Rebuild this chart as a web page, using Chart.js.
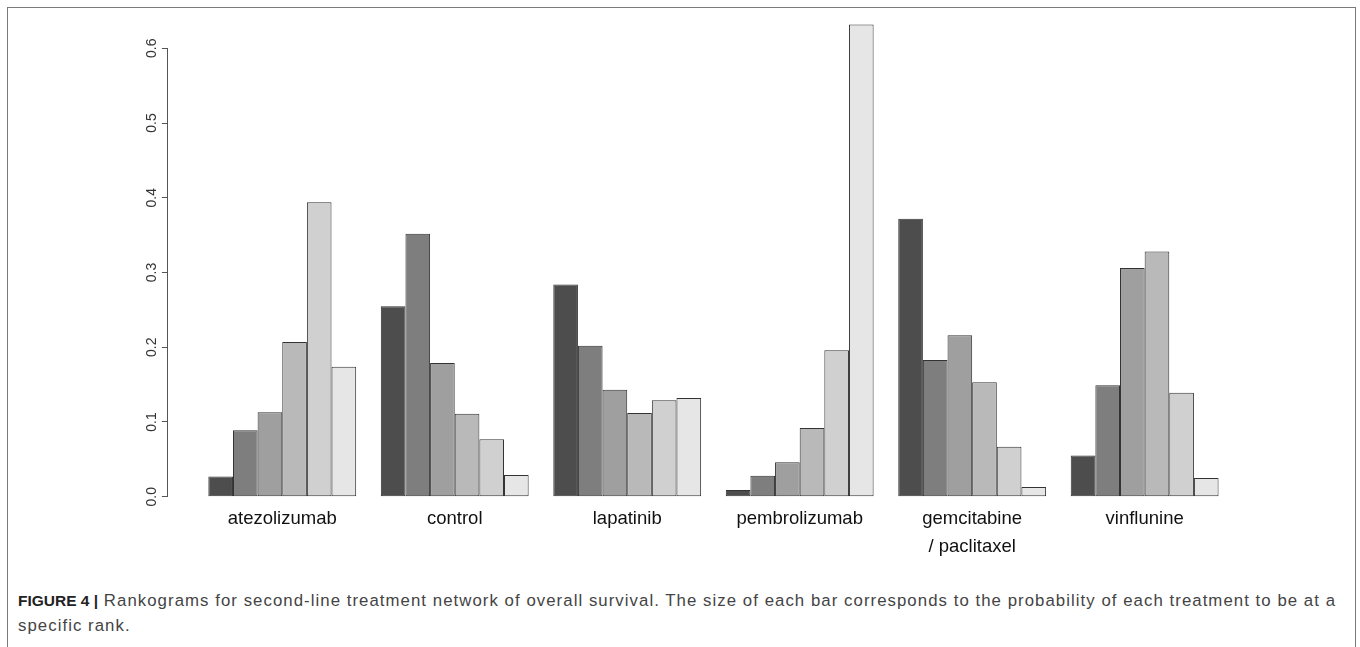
<!DOCTYPE html>
<html>
<head>
<meta charset="utf-8">
<script src="https://cdn.jsdelivr.net/npm/chart.js@4.4.1/dist/chart.umd.min.js"></script>
<style>
  html, body { margin: 0; padding: 0; width: 1360px; height: 647px; overflow: hidden; background: #fff; }
  .frame { position: absolute; left: 7px; top: 6.5px; width: 1347px; height: 700px;
           border: 1.5px solid #7a7a7a; border-bottom: none; }
  .plot { position: absolute; left: 0; top: 0; width: 1360px; height: 580px; }
  .caption { position: absolute; left: 18px; top: 588px; width: 1334px;
             font-family: "Liberation Sans", Arial, sans-serif; font-size: 16.8px;
             letter-spacing: 1.05px; line-height: 25px; color: #444; }
  .caption b { color: #222; font-size: 15.5px; letter-spacing: 0; }
</style>
</head>
<body>
<div class="frame"></div>
<div class="plot"><canvas id="myChart"></canvas></div>
<div class="caption"><b>FIGURE 4 |</b> Rankograms for second-line treatment network of overall survival. The size of each bar corresponds to the probability of each treatment to be at a specific rank.</div>
<script>
    'use strict';

    // treatments (x groups)
    var treatments = ['atezolizumab', 'control', 'lapatinib', 'pembrolizumab', ['gemcitabine', '/ paclitaxel'], 'vinflunine'];

    // probability of each treatment being at rank 1..6
    var rank1 = [0.027, 0.255, 0.284, 0.009, 0.372, 0.055];
    var rank2 = [0.089, 0.352, 0.202, 0.028, 0.183, 0.149];
    var rank3 = [0.113, 0.179, 0.143, 0.046, 0.216, 0.306];
    var rank4 = [0.207, 0.111, 0.112, 0.092, 0.153, 0.328];
    var rank5 = [0.394, 0.077, 0.129, 0.196, 0.067, 0.139];
    var rank6 = [0.174, 0.029, 0.132, 0.632, 0.013, 0.025];

    var yTickValues = [0, 0.1, 0.2, 0.3, 0.4, 0.5, 0.6];
    var yTickLabels = ['0.0', '0.1', '0.2', '0.3', '0.4', '0.5', '0.6'];

    var ranks = [rank1, rank2, rank3, rank4, rank5, rank6];
    var shades = ['#4D4D4D', '#7E7E7E', '#9F9F9F', '#B9B9B9', '#D0D0D0', '#E6E6E6'];

    var datasets = ranks.map(function (values, r) {
        return {
            label: 'rank ' + (r + 1),
            data: values.map(function (v, i) { return {x: i, y: v}; }),
            backgroundColor: shades[r],
            borderColor: '#333333',
            borderWidth: 1,
            borderSkipped: false,
            clip: false
        };
    });

    // y tick labels rotated like R's default axis
    var rotatedYLabels = {
        id: 'rotatedYLabels',
        afterDraw: function (chart) {
            var ctx = chart.ctx;
            var ys = chart.scales.y;
            ctx.save();
            ctx.font = '14px "Liberation Sans", Arial, sans-serif';
            ctx.fillStyle = '#333';
            ctx.textAlign = 'center';
            ctx.textBaseline = 'middle';
            ys.ticks.forEach(function (t, i) {
                var py = ys.getPixelForValue(t.value);
                ctx.save();
                ctx.translate(chart.chartArea.left - 16, py);
                ctx.rotate(-Math.PI / 2);
                ctx.fillText(yTickLabels[i], 0, 0);
                ctx.restore();
            });
            ctx.restore();
        }
    };

    window.chartDrawerInstance = new Chart(
        document.getElementById('myChart').getContext('2d'), {
            type: 'bar',
            data: {
                datasets: datasets
            },
            plugins: [rotatedYLabels],
            options: {
                responsive: true,
                maintainAspectRatio: false,
                animation: false,
                categoryPercentage: 6 / 7,
                barPercentage: 1,
                layout: {
                    padding: {
                        left: 161.9,
                        right: 101,
                        top: 48.3,
                        bottom: 0
                    }
                },
                plugins: {
                    legend: { display: false },
                    tooltip: { enabled: false }
                },
                scales: {
                    x: {
                        type: 'linear',
                        offset: false,
                        min: -0.663,
                        max: 5.663,
                        afterBuildTicks: function (scale) {
                            scale.ticks = treatments.map(function (t, i) { return {value: i}; });
                        },
                        afterFit: function (scale) {
                            scale.height = 83.3;
                        },
                        grid: { display: false },
                        border: { display: false },
                        ticks: {
                            autoSkip: false,
                            maxRotation: 0,
                            padding: 0,
                            color: '#111',
                            font: {
                                family: '"Liberation Sans", Arial, sans-serif',
                                size: 18.5,
                                lineHeight: 28 / 18.5
                            },
                            callback: function (value) {
                                return treatments[value];
                            }
                        }
                    },
                    y: {
                        min: 0,
                        max: 0.6,
                        afterBuildTicks: function (scale) {
                            scale.ticks = yTickValues.map(function (v) { return {value: v}; });
                        },
                        afterFit: function (scale) {
                            scale.width = 6;
                        },
                        grid: {
                            drawOnChartArea: false,
                            drawTicks: true,
                            tickLength: 6,
                            color: '#555'
                        },
                        border: {
                            display: true,
                            color: '#555',
                            width: 1
                        },
                        ticks: {
                            display: false
                        }
                    }
                }
            }
        }
    );
</script>
</body>
</html>
